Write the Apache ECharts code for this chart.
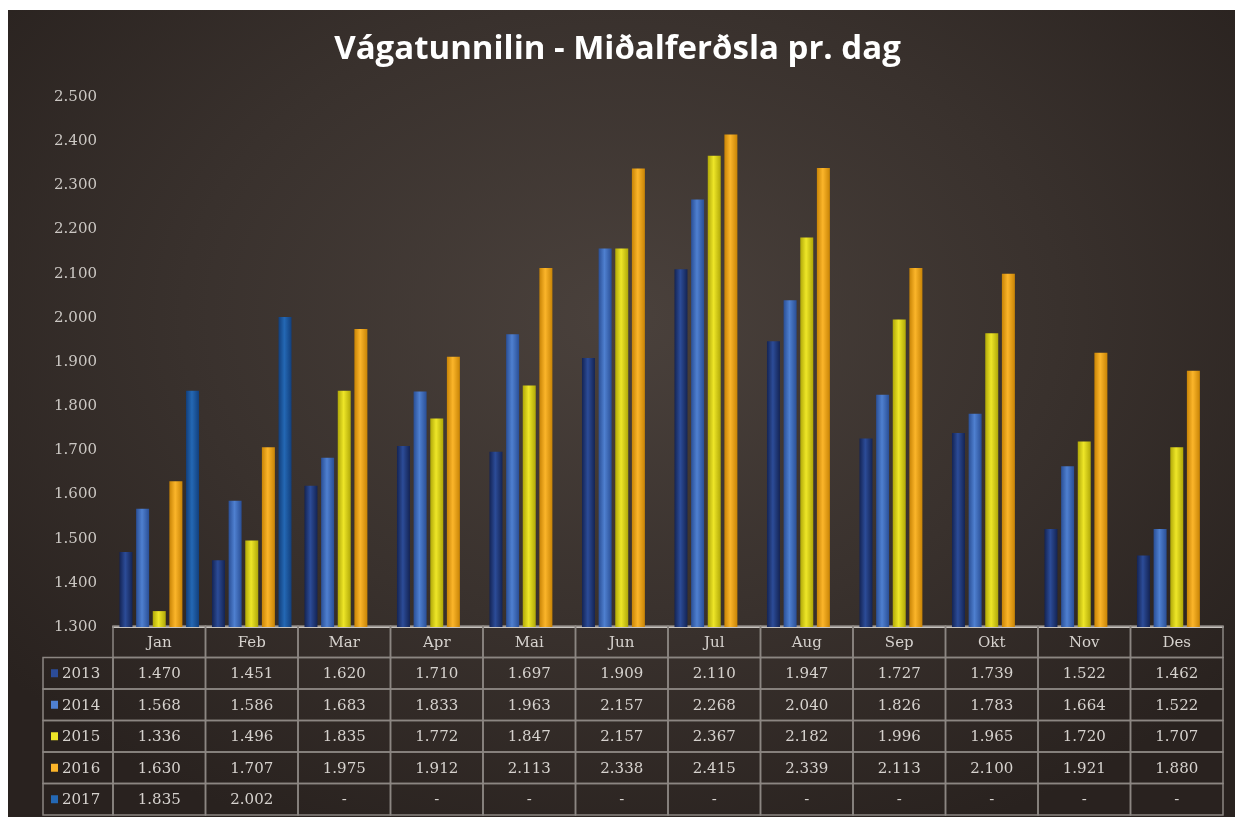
<!DOCTYPE html>
<html>
<head>
<meta charset="utf-8">
<title>Vágatunnilin</title>
<script src="https://cdn.jsdelivr.net/npm/echarts@6/dist/echarts.min.js"></script>
<style>
  html, body { margin: 0; padding: 0; background: #ffffff; }
  #bg {
    position: absolute; left: 8px; top: 10px; width: 1227px; height: 807px;
    background: radial-gradient(ellipse 65% 70% at 50% 38%, #4a413c 0%, #39312d 55%, #29221f 100%);
  }
  #main { position: absolute; left: 0; top: 0; width: 1235px; height: 817px; }
</style>
</head>
<body>
<div id="bg"></div>
<div id="main"></div>
<script>
// data
var months = ['Jan', 'Feb', 'Mar', 'Apr', 'Mai', 'Jun', 'Jul', 'Aug', 'Sep', 'Okt', 'Nov', 'Des'];
var years = ['2013', '2014', '2015', '2016', '2017'];
var v2013 = [1470, 1451, 1620, 1710, 1697, 1909, 2110, 1947, 1727, 1739, 1522, 1462];
var v2014 = [1568, 1586, 1683, 1833, 1963, 2157, 2268, 2040, 1826, 1783, 1664, 1522];
var v2015 = [1336, 1496, 1835, 1772, 1847, 2157, 2367, 2182, 1996, 1965, 1720, 1707];
var v2016 = [1630, 1707, 1975, 1912, 2113, 2338, 2415, 2339, 2113, 2100, 1921, 1880];
var v2017 = [1835, 2002, null, null, null, null, null, null, null, null, null, null];
var yTicks = { min: 1300, max: 2500, step: 100 };

var values = [v2013, v2014, v2015, v2016, v2017];
// [edge, centre] colours for a round bar look
var colors = [
  ['#142454', '#2c4c98'],
  ['#2a4f96', '#4f80d0'],
  ['#b0a808', '#eee628'],
  ['#c88406', '#fbb52a'],
  ['#123f7c', '#2468b4']
];

function fmt(n) {
  if (n === null || n === undefined) return '-';
  return String(n).replace(/\B(?=(\d{3})+(?!\d))/g, '.');
}

function barFill(c) {
  return new echarts.graphic.LinearGradient(0, 0, 1, 0, [
    { offset: 0, color: c[0] },
    { offset: 0.45, color: c[1] },
    { offset: 1, color: c[0] }
  ]);
}

var serif = '"DejaVu Serif", "Liberation Serif", serif';
var txtColor = '#d6d2ce';

var series = years.map(function (y, i) {
  return {
    name: y,
    type: 'bar',
    xAxisIndex: 0,
    yAxisIndex: 0,
    barWidth: 13,
    barGap: '28%',
    data: values[i],
    itemStyle: { color: barFill(colors[i]) }
  };
});

// table cells: header row (0) + one row per year
var cells = [];
for (var r = 0; r <= years.length; r++) {
  for (var c = 0; c < months.length; c++) cells.push([c, r]);
}

series.push({
  type: 'custom',
  xAxisIndex: 1,
  yAxisIndex: 1,
  silent: true,
  data: cells,
  renderItem: function (params, api) {
    var c = api.value(0), r = api.value(1);
    var p = api.coord([c, r]);
    var s = api.size([1, 1]);
    var x = p[0] - s[0] / 2, y = p[1] - s[1] / 2;
    var line = '#8c8682';
    var kids = [{
      type: 'rect',
      shape: { x: x, y: y, width: s[0], height: s[1] },
      style: { fill: 'rgba(0,0,0,0)', stroke: line, lineWidth: 1.5 }
    }, {
      type: 'text',
      x: p[0], y: p[1] + 1,
      style: {
        text: r === 0 ? months[c] : fmt(values[r - 1][c]),
        fill: txtColor,
        font: '15px ' + serif,
        align: 'center',
        verticalAlign: 'middle'
      }
    }];
    if (c === 0 && r > 0) {
      var lx = 43;
      kids.push({
        type: 'rect',
        shape: { x: lx, y: y, width: x - lx, height: s[1] },
        style: { fill: 'rgba(0,0,0,0)', stroke: line, lineWidth: 1.5 }
      }, {
        type: 'rect',
        shape: { x: lx + 8, y: p[1] - 4, width: 7, height: 8 },
        style: { fill: colors[r - 1][1] }
      }, {
        type: 'text',
        x: lx + 19, y: p[1] + 1,
        style: {
          text: years[r - 1],
          fill: txtColor,
          font: '15px ' + serif,
          align: 'left',
          verticalAlign: 'middle'
        }
      });
    }
    return { type: 'group', children: kids };
  }
});

var chart = echarts.init(document.getElementById('main'), null, { renderer: 'canvas' });
chart.setOption({
  backgroundColor: 'transparent',
  animation: false,
  title: {
    text: 'Vágatunnilin - Miðalferðsla pr. dag',
    left: 'center',
    top: 28,
    textStyle: {
      color: '#ffffff',
      fontFamily: '"Open Sans", sans-serif',
      fontWeight: 'bold',
      fontSize: 33
    }
  },
  grid: [
    { left: 113, right: 12, top: 97, bottom: 190 },
    { left: 113, right: 12, top: 626, bottom: 2 }
  ],
  xAxis: [{
    type: 'category',
    gridIndex: 0,
    data: months,
    axisLine: { lineStyle: { color: '#c8c4c0', width: 2 } },
    axisTick: { show: false },
    axisLabel: { show: false }
  }, {
    type: 'category',
    gridIndex: 1,
    data: months,
    show: false
  }],
  yAxis: [{
    type: 'value',
    gridIndex: 0,
    min: yTicks.min,
    max: yTicks.max,
    interval: yTicks.step,
    axisLine: { show: false },
    axisTick: { show: false },
    splitLine: { show: false },
    axisLabel: {
      margin: 16,
      color: '#cbc7c3',
      fontFamily: serif,
      fontSize: 15,
      formatter: fmt
    }
  }, {
    type: 'category',
    gridIndex: 1,
    inverse: true,
    data: [''].concat(years),
    show: false
  }],
  series: series
});
</script>
</body>
</html>
